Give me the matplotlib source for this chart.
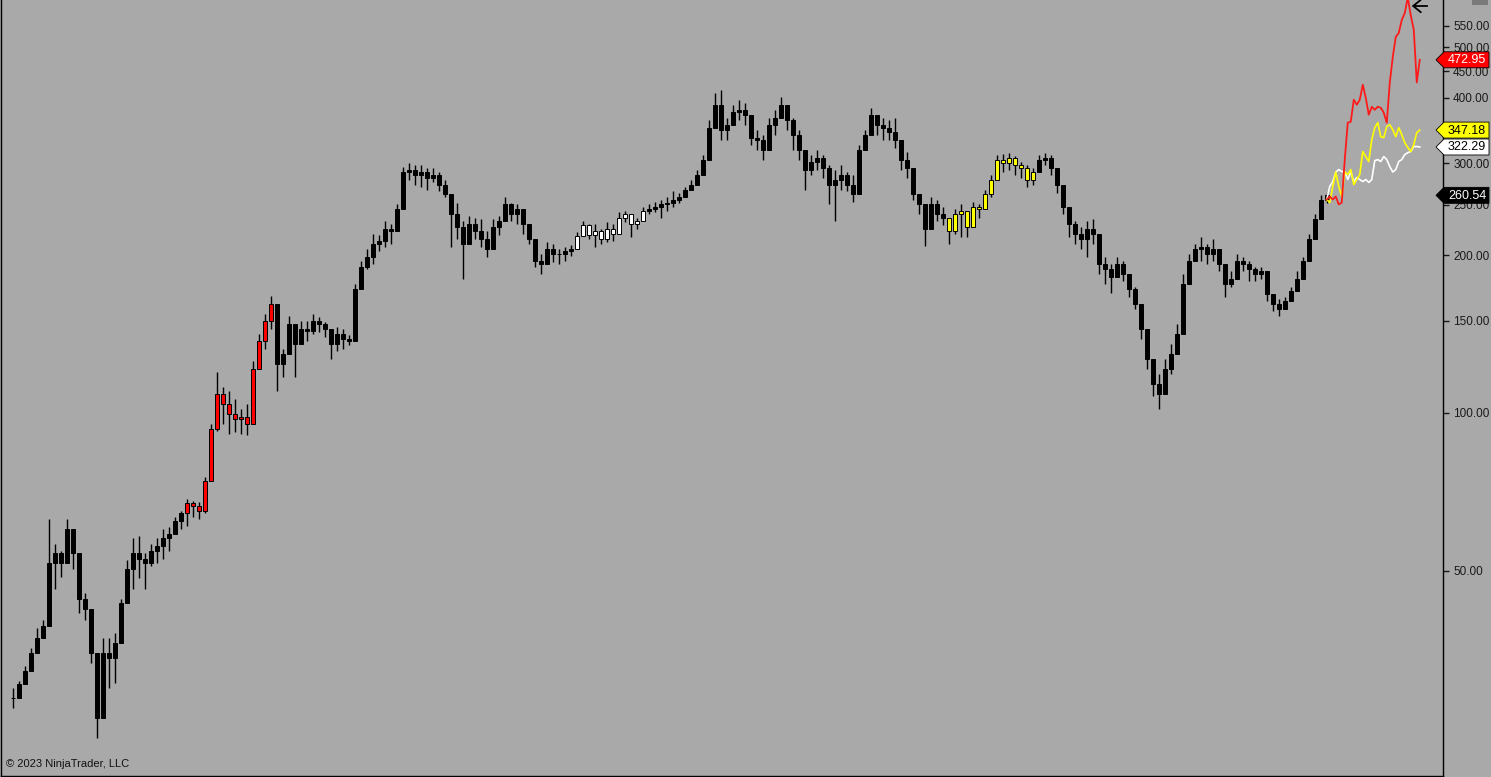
import matplotlib
matplotlib.use("Agg")
import matplotlib.pyplot as plt
import matplotlib.ticker as ticker
from matplotlib.patches import Polygon, Rectangle
from matplotlib.transforms import IdentityTransform
import numpy as np

# Bar data (high, low, close), one entry per bar, oldest first.
highs = [29.8, 30.8, 32.8, 35.5, 38.8, 40.2, 62.8, 56.3, 54.6, 62.8,
         57.6, 52.7, 45.2, 40.9, 33.3, 37.1, 37.1, 38.0, 44.2, 52.3,
         57.6, 58.1, 53.9, 56.3, 57.6, 60.1, 60.6, 63.4, 65.1, 68.6,
         68.0, 67.7, 75.6, 95.3, 119.7, 112.1, 110.1, 106.4, 101.8, 104.1,
         125.7, 141.5, 154.4, 167.1, 149.8, 132.4, 153.1, 141.5, 149.8, 149.8,
         154.4, 152.4, 149.1, 141.5, 145.9, 144.6, 140.9, 176.2, 194.9, 205.4,
         219.4, 218.5, 232.3, 229.2, 250.3, 295.7, 300.9, 298.3, 298.3, 294.4,
         294.4, 289.3, 279.3, 255.8, 252.4, 232.3, 237.4, 236.3, 234.3, 222.3,
         234.3, 238.4, 259.2, 252.4, 250.3, 241.6, 229.2, 208.1, 201.0, 211.9,
         210.0, 205.4, 207.2, 209.1, 221.3, 232.3, 229.2, 229.2, 224.3, 231.3,
         229.2, 241.6, 242.7, 239.5, 236.3, 247.0, 250.3, 253.5, 255.8, 258.1,
         265.0, 263.8, 269.7, 279.3, 291.8, 311.7, 363.4, 409.0, 414.5, 366.5,
         388.1, 396.7, 391.5, 363.4, 347.8, 340.2, 366.5, 379.6, 402.0, 383.0,
         366.5, 347.8, 318.6, 311.7, 318.6, 311.7, 298.3, 291.8, 298.3, 289.3,
         285.5, 325.7, 347.8, 383.0, 371.5, 366.5, 363.4, 366.5, 321.5, 315.8,
         281.8, 261.5, 250.3, 259.2, 255.8, 247.0, 234.3, 244.8, 250.3, 236.3,
         253.5, 250.3, 267.3, 285.5, 311.7, 313.1, 314.4, 310.3, 302.3, 298.3,
         294.4, 311.7, 314.4, 311.7, 287.8, 261.5, 239.5, 232.3, 226.3, 232.3,
         234.3, 210.0, 198.3, 192.3, 198.3, 194.9, 180.1, 173.8, 157.9, 141.5,
         124.0, 118.7, 126.8, 135.4, 147.8, 184.1, 201.0, 210.0, 216.5, 210.0,
         214.6, 201.0, 186.5, 186.5, 201.0, 198.3, 194.9, 189.8, 189.8, 176.2,
         168.6, 164.9, 166.4, 173.8, 186.5, 198.3, 219.4, 239.5, 260.4, 262.7]

lows = [27.3, 28.8, 30.5, 32.8, 35.8, 37.1, 44.2, 46.2, 48.7, 55.1,
        50.4, 41.4, 40.2, 33.3, 23.9, 27.1, 29.8, 30.5, 38.8, 44.6,
        46.2, 48.3, 46.2, 51.1, 51.6, 52.7, 54.6, 58.8, 60.1, 60.8,
        63.4, 62.8, 64.3, 79.0, 92.5, 95.3, 91.2, 92.1, 91.2, 90.8,
        106.4, 122.4, 132.4, 144.6, 110.1, 117.1, 131.3, 117.1, 135.4, 137.2,
        141.5, 142.7, 139.7, 126.8, 131.3, 132.4, 134.8, 144.6, 178.5, 188.1,
        192.3, 203.6, 207.2, 210.0, 222.3, 258.1, 279.3, 273.2, 269.7, 267.3,
        275.7, 265.0, 258.1, 207.2, 214.6, 180.1, 210.0, 214.6, 207.2, 198.3,
        214.6, 218.5, 237.4, 232.3, 229.2, 219.4, 210.0, 189.8, 184.1, 194.9,
        194.0, 192.3, 194.9, 199.2, 210.0, 222.3, 214.6, 207.2, 210.0, 211.9,
        212.7, 232.3, 231.3, 216.5, 224.3, 232.3, 239.5, 241.6, 236.3, 242.7,
        247.0, 251.4, 260.4, 267.3, 273.2, 285.5, 318.6, 350.9, 332.8, 332.8,
        355.5, 363.4, 355.5, 325.7, 318.6, 304.9, 318.6, 340.2, 371.5, 347.8,
        318.6, 304.9, 267.3, 285.5, 291.8, 281.8, 250.3, 232.3, 267.3, 265.0,
        253.5, 279.3, 318.6, 355.5, 340.2, 332.8, 332.8, 321.5, 291.8, 281.8,
        255.8, 239.5, 208.1, 234.3, 232.3, 228.2, 210.0, 219.4, 216.5, 216.5,
        226.3, 236.3, 244.8, 258.1, 281.8, 289.3, 291.8, 285.5, 281.8, 269.7,
        273.2, 289.3, 298.3, 285.5, 263.8, 239.5, 216.5, 210.0, 205.4, 198.3,
        210.0, 184.1, 176.2, 169.3, 181.7, 178.5, 166.4, 157.9, 138.4, 121.3,
        107.7, 101.8, 113.6, 118.7, 135.4, 161.4, 184.1, 194.9, 194.9, 192.3,
        194.9, 186.5, 166.4, 173.8, 184.1, 186.5, 178.5, 178.5, 180.1, 163.5,
        156.5, 153.1, 157.9, 163.5, 172.3, 184.1, 200.1, 222.3, 242.7, 251.4]

closes = [28.5, 30.4, 32.2, 34.8, 37.1, 39.2, 51.6, 53.9, 51.6, 60.1,
          53.9, 44.2, 42.3, 34.8, 26.1, 34.8, 34.0, 36.3, 43.3, 50.4,
          53.9, 52.7, 51.6, 54.4, 55.8, 57.6, 58.8, 62.3, 64.3, 67.2,
          66.3, 65.1, 74.3, 93.3, 108.7, 104.1, 99.6, 97.4, 98.3, 95.3,
          121.3, 137.2, 149.8, 161.4, 124.0, 129.6, 147.8, 135.4, 144.6, 143.3,
          149.8, 147.8, 144.6, 135.4, 141.5, 138.4, 137.2, 172.3, 189.8, 198.3,
          210.0, 212.7, 224.3, 222.3, 244.8, 289.3, 291.8, 285.5, 289.3, 281.8,
          285.5, 273.2, 261.5, 239.5, 226.3, 210.0, 229.2, 222.3, 214.6, 205.4,
          226.3, 232.3, 250.3, 239.5, 244.8, 229.2, 214.6, 194.9, 192.3, 205.4,
          201.0, 201.0, 203.6, 205.4, 217.5, 228.2, 218.5, 222.3, 214.6, 224.3,
          219.4, 236.3, 239.5, 229.2, 232.3, 242.7, 244.8, 247.0, 250.3, 252.4,
          255.8, 259.2, 267.3, 273.2, 285.5, 304.9, 350.9, 388.1, 347.8, 355.5,
          376.3, 379.6, 371.5, 335.8, 332.8, 318.6, 355.5, 366.5, 388.1, 363.4,
          340.2, 318.6, 291.8, 302.3, 307.6, 294.4, 273.2, 279.3, 285.5, 273.2,
          261.5, 318.6, 340.2, 371.5, 355.5, 350.9, 344.7, 332.8, 304.9, 294.4,
          261.5, 250.3, 224.3, 250.3, 239.5, 236.3, 222.3, 239.5, 242.7, 226.3,
          247.0, 244.8, 261.5, 279.3, 304.9, 300.9, 307.6, 298.3, 294.4, 279.3,
          289.3, 304.9, 307.6, 294.4, 273.2, 247.0, 229.2, 219.4, 214.6, 224.3,
          219.4, 192.3, 188.1, 181.7, 192.3, 184.1, 172.3, 161.4, 144.6, 126.8,
          113.6, 108.7, 121.3, 129.6, 141.5, 176.2, 194.9, 205.4, 207.2, 201.0,
          205.4, 192.3, 176.2, 180.1, 194.9, 192.3, 188.1, 184.1, 186.5, 168.6,
          161.4, 157.9, 163.5, 170.8, 180.1, 194.9, 214.6, 234.3, 255.8, 260.54]

# Projected paths after the last bar, sampled every half bar.
proj_red = [255.8, 259.2, 255.8, 259.2, 250.3, 252.4, 304.9, 358.6, 360.2, 396.7,
            388.1, 396.7, 423.7, 400.2, 371.5, 384.7, 379.6, 384.7, 383.0, 374.8,
            358.6, 427.4, 478.9, 523.1, 532.4, 563.6, 581.2, 622.0, 575.0, 540.0,
            428.0, 472.95]
proj_yellow = [255.8, 252.4, 270.9, 288.7, 270.9, 259.2, 288.7, 285.5, 291.8, 273.2,
               279.3, 285.5, 315.9, 309.0, 302.3, 332.8, 350.9, 358.6, 337.2, 335.8,
               352.5, 355.5, 347.8, 337.2, 350.9, 340.2, 328.4, 321.5, 315.9, 325.7,
               343.2, 347.18]
proj_white = [255.8, 270.9, 276.8, 288.7, 291.8, 289.3, 288.7, 279.3, 288.7, 276.8,
              281.8, 279.3, 276.8, 279.3, 275.7, 279.3, 303.5, 304.9, 302.3, 309.0,
              304.9, 295.7, 288.7, 291.8, 302.3, 304.9, 311.7, 314.4, 315.9, 322.9,
              322.9, 322.29]

# 350 sits under the yellow price marker, so it is not labelled.
price_ticks = [50, 100, 150, 200, 250, 300, 400, 450, 500, 550]

BG = "#a9a9a9"

# Bars drawn with a coloured body instead of black.
red_bars = range(29, 44)
white_bars = range(94, 106)
yellow_bars = range(156, 171)


def price_label(fig, ax, value, face, text_color):
  y = ax.transData.transform((0, value))[1]
  box = Polygon([(1436, y), (1444, y + 8), (1489, y + 8), (1489, y - 8), (1444, y - 8)],
                closed=True, transform=IdentityTransform(), facecolor=face,
                edgecolor="black", linewidth=0.6, zorder=10)
  fig.add_artist(box)
  fig.text(1467, y - 0.5, f"{value:.2f}", transform=IdentityTransform(), color=text_color,
           fontsize=9, ha="center", va="center", zorder=11)


def main():
  plt.rcParams["font.family"] = ["Liberation Sans", "DejaVu Sans"]

  fig = plt.figure(figsize=(14.91, 7.77), dpi=100, facecolor=BG)
  ax = fig.add_axes([0.0005, 1 / 777, 1442 / 1491, 776 / 777])
  ax.set_facecolor(BG)
  ax.set_yscale("log")
  ax.set_xlim(-2, 238.33)
  ax.set_ylim(20.25, 615.3)

  idx = np.arange(len(closes))
  c = np.array(closes)
  o = np.r_[c[0], c[:-1]]

  faces = ["black"] * len(closes)
  for i in red_bars:
    faces[i] = "#ff0000"
  for i in white_bars:
    faces[i] = "white"
  for i in yellow_bars:
    faces[i] = "#ffff00"

  ax.vlines(idx, lows, highs, color="black", linewidth=1.0, zorder=2)
  ax.bar(idx, np.abs(c - o) + 0.001, bottom=np.minimum(o, c), width=0.7,
         color=faces, edgecolor="black", linewidth=0.7, zorder=3)

  # Projections start at the last bar.
  px = len(closes) - 1 + 0.5 * np.arange(len(proj_red))
  ax.plot(px, proj_white, color="white", linewidth=1.2, zorder=4)
  ax.plot(px, proj_yellow, color="#ffff00", linewidth=1.2, zorder=5)
  ax.plot(px, proj_red, color="#ff1a1a", linewidth=1.3, zorder=6)

  # Axis styling.
  ax.yaxis.tick_right()
  ax.set_yticks(price_ticks)
  ax.yaxis.set_major_formatter(ticker.FormatStrFormatter("%.2f"))
  ax.yaxis.set_minor_locator(ticker.NullLocator())
  ax.tick_params(axis="y", direction="out", length=4, width=1, pad=3.5,
                 labelsize=8.5, colors="#1a1a1a")
  ax.set_xticks([])
  ax.spines["top"].set_visible(False)
  for side in ["left", "bottom", "right"]:
    ax.spines[side].set_color("black")
    ax.spines[side].set_linewidth(1)

  price_label(fig, ax, proj_red[-1], "#ff0000", "white")
  price_label(fig, ax, proj_yellow[-1], "#ffff00", "black")
  price_label(fig, ax, proj_white[-1], "white", "black")
  price_label(fig, ax, closes[-1], "black", "white")

  # Chart furniture.
  ax.annotate("", xy=(1409, 771), xytext=(1430, 771), xycoords="figure pixels",
              textcoords="figure pixels",
              arrowprops=dict(arrowstyle="->, head_length=0.55, head_width=0.45",
                              color="black", lw=1.3))
  fig.add_artist(Rectangle((1472, 772), 16, 5, transform=IdentityTransform(),
                           facecolor="#7a7a7a", edgecolor="none"))
  fig.text(6, 10, "\u00a9 2023 NinjaTrader, LLC", transform=IdentityTransform(),
           fontsize=8, color="#111111", va="baseline")

  fig.savefig("out.png", dpi=100, facecolor=BG)


if __name__ == "__main__":
  main()
